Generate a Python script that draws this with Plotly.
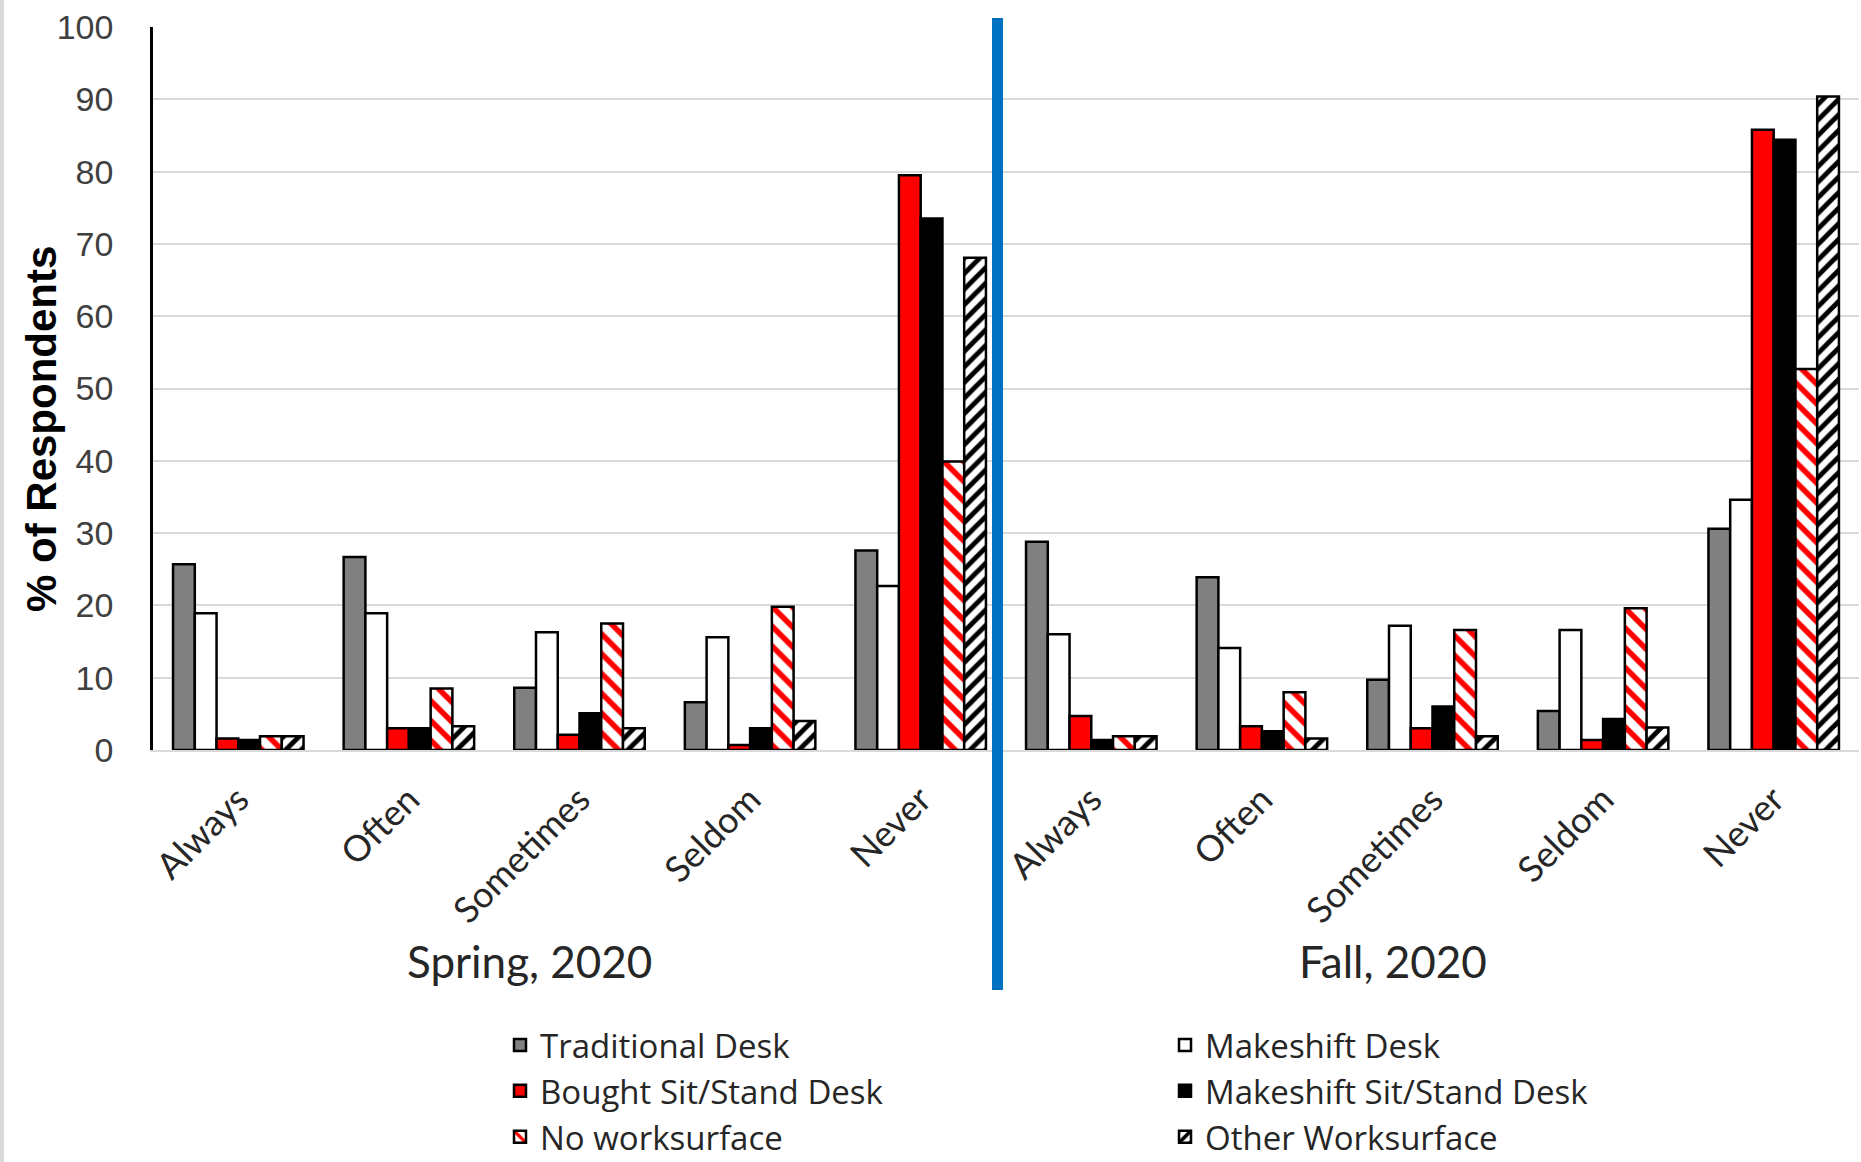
import plotly.graph_objects as go

# Survey answer categories and the two survey waves
categories = ["Always", "Often", "Sometimes", "Seldom", "Never"]
seasons = ["Spring, 2020", "Fall, 2020"]

# % of respondents per workstation type (Spring values, then Fall values)
traditional_spring = [25.7, 26.7, 8.6, 6.6, 27.6]
traditional_fall = [28.8, 23.9, 9.7, 5.4, 30.6]
makeshift_spring = [18.9, 18.9, 16.3, 15.6, 22.7]
makeshift_fall = [16.0, 14.1, 17.2, 16.6, 34.6]
bought_ss_spring = [1.6, 3.0, 2.1, 0.7, 79.5]
bought_ss_fall = [4.7, 3.3, 3.0, 1.4, 85.8]
makeshift_ss_spring = [1.4, 3.0, 5.1, 3.0, 73.5]
makeshift_ss_fall = [1.4, 2.6, 6.0, 4.3, 84.4]
no_ws_spring = [1.9, 8.5, 17.5, 19.8, 39.9]
no_ws_fall = [1.9, 8.0, 16.6, 19.6, 52.7]
other_spring = [1.9, 3.3, 3.0, 4.0, 68.1]
other_fall = [1.9, 1.6, 1.9, 3.1, 90.4]

y_ticks = list(range(0, 101, 10))

W, H = 1861, 1162
L, R, T, B = 153, 2, 27, 412
PW, PH = W - L - R, H - T - B


def px_x(x):
    return (x - L) / PW


def px_y(y):
    return (H - B - y) / PH


keys = [f"{s}|{c}" for s in seasons for c in categories]
ticktext = categories * len(seasons)

series = [
    ("Traditional Desk", traditional_spring + traditional_fall,
     dict(color="#808080")),
    ("Makeshift Desk", makeshift_spring + makeshift_fall,
     dict(color="#ffffff")),
    ("Bought Sit/Stand Desk", bought_ss_spring + bought_ss_fall,
     dict(color="#ff0000")),
    ("Makeshift Sit/Stand Desk", makeshift_ss_spring + makeshift_ss_fall,
     dict(color="#000000")),
    ("No worksurface", no_ws_spring + no_ws_fall,
     dict(color="#ffffff",
          pattern=dict(shape="\\", fgcolor="#ff0000", bgcolor="#ffffff",
                       fgopacity=1, size=14, solidity=0.4,
                       fillmode="replace"))),
    ("Other Worksurface", other_spring + other_fall,
     dict(color="#ffffff",
          pattern=dict(shape="/", fgcolor="#000000", bgcolor="#ffffff",
                       fgopacity=1, size=11, solidity=0.45,
                       fillmode="replace"))),
]

fig = go.Figure()
for name, vals, mk in series:
    mk = dict(mk)
    mk["line"] = dict(color="#000000", width=2.5)
    fig.add_trace(go.Bar(name=name, x=keys, y=vals, marker=mk))

label_font = "Lato, Calibri, sans-serif"

fig.update_layout(
    width=W, height=H,
    margin=dict(l=L, r=R, t=T, b=B, pad=0, autoexpand=False),
    paper_bgcolor="#ffffff",
    plot_bgcolor="#ffffff",
    barmode="group",
    bargap=0.235,
    bargroupgap=0,
    showlegend=True,
    legend=dict(
        orientation="h",
        x=px_x(500), xanchor="left",
        y=px_y(1017), yanchor="top",
        entrywidth=620, entrywidthmode="pixels",
        font=dict(family="Open Sans, sans-serif", size=33, color="#262626"),
        bgcolor="rgba(0,0,0,0)",
        traceorder="normal",
        itemclick=False,
    ),
    xaxis=dict(
        type="category",
        automargin=False,
        tickmode="array",
        tickvals=keys,
        ticktext=ticktext,
        tickangle=-45,
        tickfont=dict(family=label_font, size=36, color="#262626"),
        ticklabelstandoff=12,
        showgrid=False,
        showline=True, linecolor="#d9d9d9", linewidth=2,
        ticks="",
    ),
    yaxis=dict(
        range=[0, 100],
        automargin=False,
        tickmode="array",
        tickvals=y_ticks,
        showgrid=True, gridcolor="#d9d9d9", gridwidth=2,
        zeroline=False,
        showline=True, linecolor="#000000", linewidth=2.5,
        ticks="",
        ticklabelstandoff=30,
        tickfont=dict(family="Liberation Sans, Arial, sans-serif", size=34,
                      color="#404040"),
    ),
)

# y-axis title
fig.add_annotation(
    text="<b>% of Respondents</b>", textangle=-90,
    xref="paper", yref="paper", x=px_x(41), y=px_y(429),
    showarrow=False, xanchor="center", yanchor="middle",
    font=dict(family="Liberation Sans, Arial, sans-serif", size=42,
              color="#000000"),
)

# season captions under each half
for season, cx in zip(seasons, [529, 1393]):
    fig.add_annotation(
        text=season, xref="paper", yref="paper",
        x=px_x(cx), y=px_y(961), showarrow=False,
        xanchor="center", yanchor="middle",
        font=dict(family=label_font, size=44, color="#262626"),
    )

# blue separator between the two survey waves
fig.add_shape(
    type="rect", xref="paper", yref="paper",
    x0=px_x(992), x1=px_x(1003), y0=px_y(990), y1=px_y(18),
    fillcolor="#0070c0", line=dict(width=0), layer="above",
)

# thin grey frame edge on the left
fig.add_shape(
    type="rect", xref="paper", yref="paper",
    x0=px_x(0), x1=px_x(4), y0=px_y(H), y1=px_y(0),
    fillcolor="#d9d9d9", line=dict(width=0), layer="above",
)

fig.write_html("out.html")
